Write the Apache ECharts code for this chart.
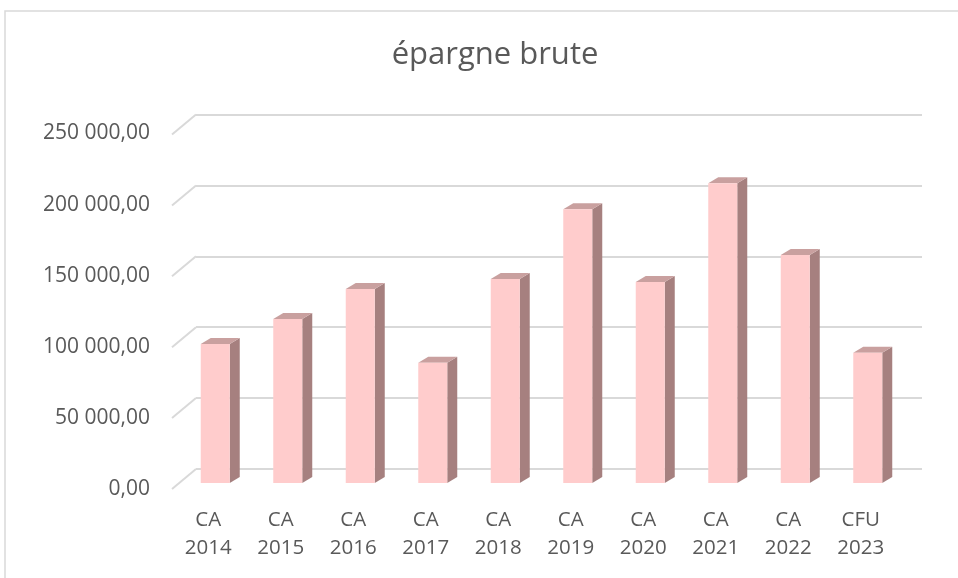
<!DOCTYPE html>
<html>
<head>
    <meta charset="UTF-8">
    <title>épargne brute</title>
    <script src="https://cdn.jsdelivr.net/npm/echarts@6/dist/echarts.min.js"></script>
    <style type="text/css">
        html, body {
            margin: 0;
            padding: 0;
            background: #ffffff;
        }
        #chart {
            width: 958px;
            height: 578px;
        }
    </style>
</head>
<body>
<div id="chart"></div>
<script>
    // données
    let categories = ['CA\n2014', 'CA\n2015', 'CA\n2016', 'CA\n2017', 'CA\n2018',
        'CA\n2019', 'CA\n2020', 'CA\n2021', 'CA\n2022', 'CFU\n2023'];
    let epargneBrute = [98000, 115700, 136800, 84800, 143900, 193000, 141700, 211400, 160800, 91900];
    let yTicks = [0, 50000, 100000, 150000, 200000, 250000];
    let yTickLabels = ['0,00', '50 000,00', '100 000,00', '150 000,00', '200 000,00', '250 000,00'];

    let textColor = '#595959';
    let gridColor = '#d9d9d9';
    let depthX = 10, depthY = -6;

    let myChart = echarts.init(document.getElementById('chart'));

    function renderBar(params, api) {
        let bottom = api.coord([api.value(0), 0]);
        let top = api.coord([api.value(0), api.value(1)]);
        let w = api.size([1, 0])[0] * 0.4;
        let l = bottom[0] - w / 2, r = bottom[0] + w / 2;
        return {
            type: 'group',
            children: [
                {
                    type: 'polygon',
                    shape: {points: [[r, top[1]], [r + depthX, top[1] + depthY], [r + depthX, bottom[1] + depthY], [r, bottom[1]]]},
                    style: {fill: '#a6807f'}
                },
                {
                    type: 'polygon',
                    shape: {points: [[l, top[1]], [l + depthX, top[1] + depthY], [r + depthX, top[1] + depthY], [r, top[1]]]},
                    style: {fill: '#c9a09f'}
                },
                {
                    type: 'rect',
                    shape: {x: l, y: top[1], width: w, height: bottom[1] - top[1]},
                    style: {fill: '#ffcccc'}
                }
            ]
        };
    }

    function renderDiagonal(params, api) {
        let p = api.coord([0, api.value(0)]);
        return {
            type: 'line',
            shape: {x1: p[0], y1: p[1], x2: p[0] - 24, y2: p[1] + 20},
            style: {stroke: gridColor, lineWidth: 2}
        };
    }

    let option = {
        animation: false,
        title: {
            text: 'épargne brute',
            left: 490,
            top: 35,
            textAlign: 'center',
            textStyle: {
                color: textColor,
                fontFamily: 'Open Sans',
                fontWeight: 'normal',
                fontSize: 31
            }
        },
        graphic: [
            {
                type: 'rect',
                shape: {x: 5, y: 11, width: 1000, height: 600},
                style: {fill: null, stroke: gridColor, lineWidth: 1.5},
                silent: true
            }
        ],
        grid: [
            // paroi du fond
            {left: 196, top: 114.5, width: 726, height: 354.5},
            // plan avant (étiquettes)
            {left: 172, top: 133.5, width: 725, height: 355.5},
            // plan des barres
            {left: 179, top: 128.5, width: 725, height: 354.5}
        ],
        xAxis: [
            {gridIndex: 0, type: 'value', min: 0, max: 1, show: false},
            {
                gridIndex: 1,
                type: 'category',
                data: categories,
                axisLine: {show: false},
                axisTick: {show: false},
                axisLabel: {
                    color: textColor,
                    fontFamily: 'Open Sans',
                    fontSize: 20.5,
                    lineHeight: 28,
                    margin: 17
                }
            },
            {gridIndex: 2, type: 'category', data: categories, show: false}
        ],
        yAxis: [
            {
                gridIndex: 0,
                type: 'value',
                min: 0,
                max: 250000,
                interval: 50000,
                axisLine: {show: false},
                axisTick: {show: false},
                axisLabel: {show: false},
                splitLine: {lineStyle: {color: gridColor, width: 2}}
            },
            {
                gridIndex: 1,
                type: 'value',
                min: 0,
                max: 250000,
                interval: 50000,
                axisLine: {show: false},
                axisTick: {show: false},
                splitLine: {show: false},
                axisLabel: {
                    color: textColor,
                    fontFamily: 'Open Sans',
                    fontSize: 21,
                    margin: 22,
                    formatter: function (v) {
                        let i = yTicks.indexOf(v);
                        return i >= 0 ? yTickLabels[i] : '';
                    }
                }
            },
            {gridIndex: 2, type: 'value', min: 0, max: 250000, show: false}
        ],
        series: [
            {
                type: 'custom',
                xAxisIndex: 0,
                yAxisIndex: 0,
                renderItem: renderDiagonal,
                data: yTicks.map(function (v) { return [v]; }),
                silent: true
            },
            {
                name: 'épargne brute',
                type: 'custom',
                xAxisIndex: 2,
                yAxisIndex: 2,
                renderItem: renderBar,
                encode: {x: 0, y: 1},
                data: epargneBrute.map(function (v, i) { return [i, v]; })
            }
        ]
    };
    myChart.setOption(option);
</script>
</body>
</html>
